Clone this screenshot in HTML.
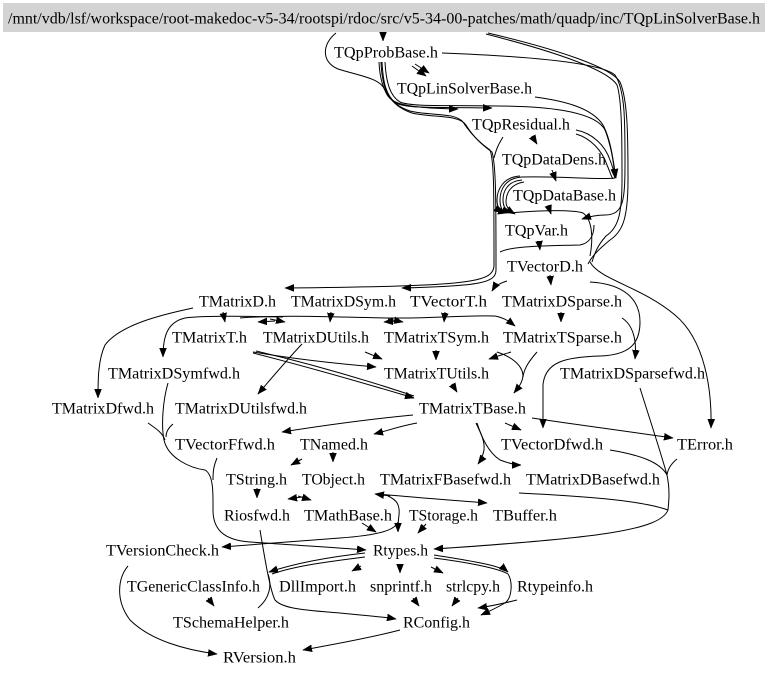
<!DOCTYPE html>
<html>
<head>
<meta charset="utf-8">
<style>
html,body{margin:0;padding:0;background:#fff;}
svg{display:block;}
text{font-family:"Liberation Serif","DejaVu Serif",serif;font-size:16px;fill:#000;}
path{fill:none;stroke:#000;stroke-width:1;}
</style>
</head>
<body>
<svg width="768" height="676" viewBox="0 0 768 676" xmlns="http://www.w3.org/2000/svg">
<defs>
<marker id="a" markerWidth="10" markerHeight="8" refX="9" refY="4" orient="auto" markerUnits="userSpaceOnUse">
<path d="M0,0.5 L9,4 L0,7.5z" style="fill:#000;stroke:#000;stroke-width:0.5"/>
</marker>
</defs>
<rect x="0" y="0" width="768" height="676" fill="#fff"/>
<rect x="3" y="3" width="762" height="29" fill="#d3d3d3"/>
<text x="8" y="23.5" textLength="752" lengthAdjust="spacingAndGlyphs">/mnt/vdb/lsf/workspace/root-makedoc-v5-34/rootspi/rdoc/src/v5-34-00-patches/math/quadp/inc/TQpLinSolverBase.h</text>

<!-- edges top -->
<path d="M383,33 L383,41" marker-end="url(#a)"/>
<path d="M336,33 C322,44 321,62 338,69 C360,76 380,78 385,90 C389,103 400,108 458,109" marker-end="url(#a)"/>
<path d="M382,62 C383,82 386,96 396,103 C408,109 440,107 492,108" marker-end="url(#a)"/>
<path d="M385,62 C386,82 390,96 400,102 C412,107 445,105 497,106 C540,106 595,110 605,130 C612,148 614,165 615,178" marker-end="url(#a)"/>
<path d="M379,62 C380,85 386,103 410,111 C430,116 455,112 463,122 C470,133 480,143 490,150 C494,160 494,190 494,265 C494,283 470,286 285,288" marker-end="url(#a)"/>
<path d="M381,62 C382,88 388,105 412,113 C432,118 458,114 466,125 C472,135 482,145 492,152 C496,165 496,200 496,270 C496,283 480,286 402,288" marker-end="url(#a)"/>
<path d="M503,137 C498,145 496,150 494,158"/>
<path d="M415,64 L429,73" marker-end="url(#a)"/>
<path d="M412,66 L426,76" marker-end="url(#a)"/>
<path d="M507,281 C500,283 495,286 492,291" marker-end="url(#a)"/>
<path d="M535,97 C565,101 592,108 603,125 C611,140 613,160 616,178" marker-end="url(#a)"/>
<path d="M576,130 C592,133 605,145 610,160 C613,168 614,172 616,178"/>
<path d="M576,134 C590,138 602,150 607,165 C610,172 611,176 613,179"/>
<path d="M442,53 C520,56 600,62 615,75 C625,90 625,120 625,160 C625,200 624,215 605,215 C595,215 588,217 582,219" marker-end="url(#a)"/>
<path d="M488,33 C560,50 612,68 620,82 C628,100 628,140 628,180 C628,220 622,232 610,240 C598,250 592,256 588,264"/>
<path d="M486,34 C556,52 608,70 617,85 C622,100 622,140 622,180 C622,215 618,228 606,236 C598,245 595,252 592,262"/>
<path d="M532,136 L537,144" marker-end="url(#a)"/>
<path d="M552,170 L556,181" marker-end="url(#a)"/>
<path d="M615,178 C600,180 560,176 522,177 C505,178 500,190 500,200 C500,208 503,212 507,213" marker-end="url(#a)"/>
<path d="M522,180 C507,181 503,192 503,200 C503,207 506,211 511,213" marker-end="url(#a)"/>
<path d="M524,182 C510,184 506,194 506,202 C506,207 510,211 515,214" marker-end="url(#a)"/>
<path d="M520,176 C503,177 497,190 497,200 C497,207 500,211 503,213" marker-end="url(#a)"/>
<path d="M510,213 C530,211 570,209 583,213 C593,220 593,240 590,256"/>
<path d="M548,205 L551,214" marker-end="url(#a)"/>
<path d="M500,252 C510,247 530,246 580,245 C590,243 594,235 594,225"/>
<path d="M539,241 L540,250" marker-end="url(#a)"/>
<path d="M550,275 L551,285" marker-end="url(#a)"/>
<path d="M590,262 C600,280 640,286 675,315 C705,340 712,390 711,428" marker-end="url(#a)"/>
<path d="M590,282 C625,284 640,300 640,322 C640,345 628,355 600,356 C565,357 545,362 543,385 L543,428" marker-end="url(#a)"/>

<!-- middle band -->
<path d="M283,317 C240,316 200,316 185,318 C168,322 163,335 163,357" marker-end="url(#a)"/>
<path d="M240,318 C290,314 350,318 400,318 C440,318 470,315 495,316 C505,318 510,322 515,326" marker-end="url(#a)"/>
<path d="M223,312 L225,322" marker-end="url(#a)"/>
<path d="M275,321 L258,322" marker-end="url(#a)"/>
<path d="M270,319 L285,322" marker-end="url(#a)"/>
<path d="M331,312 L330,322" marker-end="url(#a)"/>
<path d="M398,321 L384,322" marker-end="url(#a)"/>
<path d="M388,319 L403,322" marker-end="url(#a)"/>
<path d="M445,312 L444,322" marker-end="url(#a)"/>
<path d="M193,308 C160,315 120,325 105,345 C98,360 98,380 98,398" marker-end="url(#a)"/>
<path d="M253,352 C300,360 340,364 376,367" marker-end="url(#a)"/>
<path d="M253,353 C320,370 370,385 414,398" marker-end="url(#a)"/>
<path d="M256,351 C320,366 372,382 414,396"/>
<path d="M365,352 L382,359" marker-end="url(#a)"/>
<path d="M302,344 C285,362 270,380 258,394" marker-end="url(#a)"/>
<path d="M436,350 L436,360" marker-end="url(#a)"/>
<path d="M452,384 L457,392" marker-end="url(#a)"/>
<path d="M511,352 C505,354 498,356 489,359" marker-end="url(#a)"/>
<path d="M497,352 C512,357 522,365 523,375 C523,382 518,388 514,393" marker-end="url(#a)"/>
<path d="M537,352 C530,360 524,368 523,377"/>
<path d="M561,312 L561,322" marker-end="url(#a)"/>
<path d="M622,318 C633,325 637,340 635,359" marker-end="url(#a)"/>
<path d="M413,415 C360,420 320,426 282,432" marker-end="url(#a)"/>
<path d="M417,423 C400,426 390,430 374,434" marker-end="url(#a)"/>
<path d="M505,423 L521,430" marker-end="url(#a)"/>
<path d="M532,418 C580,425 630,432 673,438" marker-end="url(#a)"/>
<path d="M476,423 C480,432 485,440 484,450 C483,455 481,460 478,464" marker-end="url(#a)"/>
<path d="M477,423 C482,438 488,452 500,460 C508,463 515,465 521,465" marker-end="url(#a)"/>

<!-- right merges to Rtypes -->
<path d="M640,388 C650,420 660,450 667,475 C670,490 669,500 668,510"/>
<path d="M610,450 C640,455 660,462 667,475"/>
<path d="M677,459 C672,463 668,468 667,475"/>
<path d="M519,493 C580,496 640,500 668,510"/>
<path d="M668,510 C660,530 600,538 434,549" marker-end="url(#a)"/>

<!-- left bundle to Rtypes -->
<path d="M168,383 C163,400 161,425 164,440 C168,458 190,468 205,470 C214,475 213,495 213,510 C213,528 222,540 250,542 C290,545 330,547 366,550" marker-end="url(#a)"/>
<path d="M148,423 C155,428 162,432 165,440"/>
<path d="M173,424 C168,428 166,432 166,437"/>
<path d="M217,458 C214,465 213,470 213,480"/>

<!-- lower -->
<path d="M302,459 L291,465" marker-end="url(#a)"/>
<path d="M333,452 L333,462" marker-end="url(#a)"/>
<path d="M257,488 L257,498" marker-end="url(#a)"/>
<path d="M302,497 L288,499" marker-end="url(#a)"/>
<path d="M298,496 L311,500" marker-end="url(#a)"/>
<path d="M378,494 C420,498 450,500 487,503" marker-end="url(#a)"/>
<path d="M390,496 L375,494" marker-end="url(#a)"/>
<path d="M388,496 C397,500 400,505 399,515 C398,522 398,527 398,532" marker-end="url(#a)"/>
<path d="M398,522 C395,530 380,535 340,538 C300,541 260,544 222,547" marker-end="url(#a)"/>
<path d="M362,523 L376,532" marker-end="url(#a)"/>
<path d="M426,524 L418,533" marker-end="url(#a)"/>
<path d="M361,566 L352,571" marker-end="url(#a)"/>
<path d="M400,564 L400,573" marker-end="url(#a)"/>
<path d="M431,567 L443,573" marker-end="url(#a)"/>
<path d="M434,555 C465,560 500,565 508,572" marker-end="url(#a)"/>
<path d="M434,558 C465,562 498,568 508,574 C513,582 512,598 505,603 C498,607 490,611 481,615" marker-end="url(#a)"/>
<path d="M517,600 C505,603 492,606 478,608" marker-end="url(#a)"/>
<path d="M413,598 L419,606" marker-end="url(#a)"/>
<path d="M458,598 L452,606" marker-end="url(#a)"/>
<path d="M365,553 C320,558 290,565 269,572" marker-end="url(#a)"/>
<path d="M365,557 C325,562 295,566 272,574"/>
<path d="M268,574 C272,585 270,598 258,608"/>
<path d="M208,598 L214,606" marker-end="url(#a)"/>
<path d="M260,530 C265,560 270,590 275,600 C282,608 300,610 340,613 C370,616 385,617 396,619" marker-end="url(#a)"/>
<path d="M400,630 C370,638 330,645 303,650" marker-end="url(#a)"/>
<path d="M128,566 C118,578 115,600 130,620 C150,640 185,650 217,654" marker-end="url(#a)"/>

<!-- labels -->
<text x="334" y="57.5" textLength="104" lengthAdjust="spacingAndGlyphs">TQpProbBase.h</text>
<text x="397" y="93.5" textLength="135" lengthAdjust="spacingAndGlyphs">TQpLinSolverBase.h</text>
<text x="472" y="129.5" textLength="98" lengthAdjust="spacingAndGlyphs">TQpResidual.h</text>
<text x="502" y="164.5" textLength="104" lengthAdjust="spacingAndGlyphs">TQpDataDens.h</text>
<text x="513" y="200.5" textLength="103" lengthAdjust="spacingAndGlyphs">TQpDataBase.h</text>
<text x="505" y="235.5" textLength="63" lengthAdjust="spacingAndGlyphs">TQpVar.h</text>
<text x="507" y="271.5" textLength="76" lengthAdjust="spacingAndGlyphs">TVectorD.h</text>
<text x="199" y="306.5" textLength="77" lengthAdjust="spacingAndGlyphs">TMatrixD.h</text>
<text x="291" y="306.5" textLength="105" lengthAdjust="spacingAndGlyphs">TMatrixDSym.h</text>
<text x="410" y="306.5" textLength="77" lengthAdjust="spacingAndGlyphs">TVectorT.h</text>
<text x="502" y="306.5" textLength="120" lengthAdjust="spacingAndGlyphs">TMatrixDSparse.h</text>
<text x="172" y="342.5" textLength="75" lengthAdjust="spacingAndGlyphs">TMatrixT.h</text>
<text x="263" y="342.5" textLength="106" lengthAdjust="spacingAndGlyphs">TMatrixDUtils.h</text>
<text x="384" y="342.5" textLength="105" lengthAdjust="spacingAndGlyphs">TMatrixTSym.h</text>
<text x="503" y="342.5" textLength="119" lengthAdjust="spacingAndGlyphs">TMatrixTSparse.h</text>
<text x="108" y="378.5" textLength="132" lengthAdjust="spacingAndGlyphs">TMatrixDSymfwd.h</text>
<text x="384" y="378.5" textLength="105" lengthAdjust="spacingAndGlyphs">TMatrixTUtils.h</text>
<text x="560" y="378.5" textLength="145" lengthAdjust="spacingAndGlyphs">TMatrixDSparsefwd.h</text>
<text x="52" y="413.5" textLength="102" lengthAdjust="spacingAndGlyphs">TMatrixDfwd.h</text>
<text x="175" y="413.5" textLength="132" lengthAdjust="spacingAndGlyphs">TMatrixDUtilsfwd.h</text>
<text x="419" y="413.5" textLength="107" lengthAdjust="spacingAndGlyphs">TMatrixTBase.h</text>
<text x="175" y="449.5" textLength="100" lengthAdjust="spacingAndGlyphs">TVectorFfwd.h</text>
<text x="300" y="449.5" textLength="68" lengthAdjust="spacingAndGlyphs">TNamed.h</text>
<text x="501" y="449.5" textLength="102" lengthAdjust="spacingAndGlyphs">TVectorDfwd.h</text>
<text x="677" y="449.5" textLength="56" lengthAdjust="spacingAndGlyphs">TError.h</text>
<text x="226" y="484.5" textLength="61" lengthAdjust="spacingAndGlyphs">TString.h</text>
<text x="302" y="484.5" textLength="63" lengthAdjust="spacingAndGlyphs">TObject.h</text>
<text x="380" y="484.5" textLength="131" lengthAdjust="spacingAndGlyphs">TMatrixFBasefwd.h</text>
<text x="526" y="484.5" textLength="134" lengthAdjust="spacingAndGlyphs">TMatrixDBasefwd.h</text>
<text x="224" y="520.5" textLength="66" lengthAdjust="spacingAndGlyphs">Riosfwd.h</text>
<text x="304" y="520.5" textLength="88" lengthAdjust="spacingAndGlyphs">TMathBase.h</text>
<text x="409" y="520.5" textLength="69" lengthAdjust="spacingAndGlyphs">TStorage.h</text>
<text x="493" y="520.5" textLength="64" lengthAdjust="spacingAndGlyphs">TBuffer.h</text>
<text x="106" y="555.5" textLength="113" lengthAdjust="spacingAndGlyphs">TVersionCheck.h</text>
<text x="373" y="555.5" textLength="55" lengthAdjust="spacingAndGlyphs">Rtypes.h</text>
<text x="127" y="591.5" textLength="133" lengthAdjust="spacingAndGlyphs">TGenericClassInfo.h</text>
<text x="279" y="591.5" textLength="77" lengthAdjust="spacingAndGlyphs">DllImport.h</text>
<text x="370" y="591.5" textLength="62" lengthAdjust="spacingAndGlyphs">snprintf.h</text>
<text x="446" y="591.5" textLength="54" lengthAdjust="spacingAndGlyphs">strlcpy.h</text>
<text x="517" y="591.5" textLength="76" lengthAdjust="spacingAndGlyphs">Rtypeinfo.h</text>
<text x="173" y="627.5" textLength="116" lengthAdjust="spacingAndGlyphs">TSchemaHelper.h</text>
<text x="403" y="627.5" textLength="67" lengthAdjust="spacingAndGlyphs">RConfig.h</text>
<text x="223" y="662.5" textLength="73" lengthAdjust="spacingAndGlyphs">RVersion.h</text>
</svg>
</body>
</html>
